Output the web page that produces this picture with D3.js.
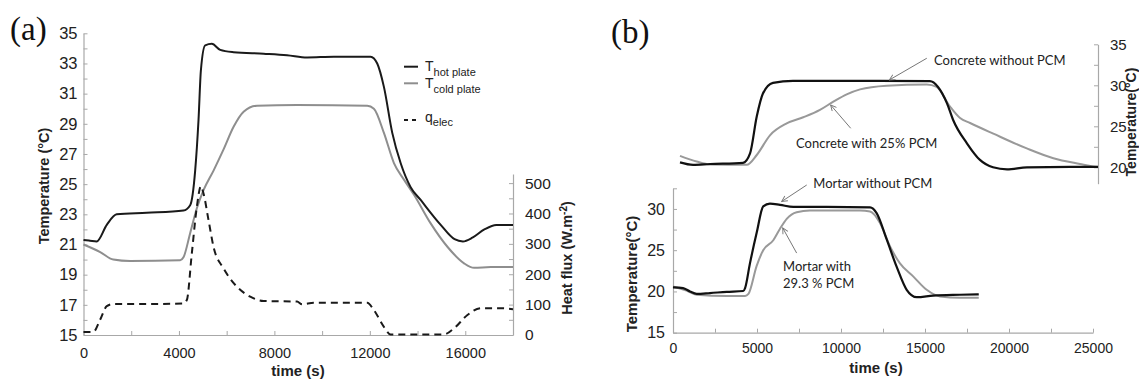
<!DOCTYPE html>
<html><head><meta charset="utf-8">
<script src="https://cdn.jsdelivr.net/npm/d3@7"></script>
<style>body{margin:0;background:#fff;} svg{display:block;}</style>
</head><body>
<svg id="chart" width="1139" height="380"></svg>
<script>
// ---------- Panel (a) data : [time (s), value] ----------
const hotPlate = [[0,21.3],[270,21.25],[550,21.2],[975,22.3],[1390,23.0],[2650,23.1],[4190,23.25],[4470,23.6],[4680,25.9],[4820,29.25],[4920,32.55],[5100,34.2],[5380,34.3],[5730,33.9],[6290,33.75],[7550,33.65],[8530,33.55],[9370,33.4],[10490,33.45],[12030,33.45],[12310,33.0],[12590,31.45],[12940,28.4],[13290,26.4],[13710,24.8],[14130,23.95],[14970,22.3],[15550,21.35],[15900,21.2],[16300,21.45],[16800,22.0],[17300,22.3],[18000,22.3]];
const coldPlate = [[0,21.0],[700,20.5],[1250,20.0],[1950,19.9],[4050,19.95],[4190,20.15],[4470,21.75],[4750,23.4],[5030,24.6],[5450,25.9],[5870,27.3],[6290,28.8],[6710,29.8],[7270,30.2],[8950,30.25],[11890,30.2],[12170,30.0],[12590,28.4],[13010,26.4],[13430,25.3],[13850,24.3],[14550,22.4],[15250,20.85],[15950,19.75],[16370,19.45],[17070,19.5],[18000,19.5]];
const heatFlux = [[0,10],[410,10],[690,49],[975,95],[1250,102],[2650,102],[4190,104],[4330,115],[4540,269],[4750,422],[4920,490],[5030,466],[5240,378],[5450,290],[5870,219],[6430,159],[6990,126],[7550,112],[8950,110],[9160,101],[9650,106],[11890,106],[12170,82],[12590,27],[12870,2],[15110,2],[15530,22],[16090,66],[16650,88],[17490,88],[18000,85]];
const timeTicksA = [0,2000,4000,6000,8000,10000,12000,14000,16000,18000];
const tempTicksA = d3.range(15, 36, 1);
const fluxTicksA = d3.range(0, 501, 50);

// ---------- Panel (b) data ----------
const concreteNoPCM = [[0,20.6],[780,20.3],[1800,20.4],[3770,20.55],[4190,21.7],[4590,26.2],[4960,29.0],[5560,30.3],[6760,30.55],[10770,30.55],[14950,30.5],[15430,29.8],[15970,27.8],[16330,25.8],[17170,22.9],[17940,20.9],[18720,20.0],[19560,19.75],[20750,20.0],[23330,20.05],[25000,20.05]];
const concretePCM = [[0,21.4],[1000,20.7],[1800,20.35],[3990,20.3],[4590,21.5],[5380,23.9],[6380,25.35],[7370,26.1],[8370,27.0],[9170,28.0],[9970,28.9],[10770,29.5],[12360,29.95],[14760,30.1],[15350,29.8],[16150,27.4],[16750,26.0],[17350,25.4],[18740,24.1],[20740,22.3],[22330,21.1],[23920,20.4],[24700,20.1],[25000,20.05]];
const mortarNoPCM = [[0,20.5],[600,20.4],[1010,20.0],[1410,19.7],[2200,19.8],[3200,19.95],[4180,20.05],[4290,20.4],[4580,23.4],[4980,27.1],[5370,30.3],[5770,30.65],[6370,30.5],[7160,30.25],[9150,30.25],[11730,30.2],[12120,29.5],[12720,26.3],[13310,23.0],[13910,20.2],[14510,19.3],[15490,19.5],[17080,19.6],[18200,19.65]];
const mortarPCM = [[0,20.6],[800,20.1],[1410,19.6],[3200,19.45],[4290,19.45],[4490,19.7],[4980,23.1],[5370,25.0],[5970,26.2],[6370,27.6],[6770,28.8],[7360,29.6],[8150,29.8],[11130,29.8],[11730,29.7],[12320,28.3],[12920,25.45],[13510,23.4],[14310,21.8],[15100,20.2],[15890,19.4],[17080,19.25],[18200,19.25]];
const timeTicksB = d3.range(0, 25001, 2500);
const tempTicksBBottom = [15,17.5,20,22.5,25,27.5,30,32.5];
const tempTicksBTop = [20,22.5,25,27.5,30,32.5,35];

const svg = d3.select("#chart");
const NUM = "'Liberation Sans', Arial, sans-serif";
const AXC = "#a8a8a8", TXC = "#222";

function styleAxis(g, fs) {
  g.select(".domain").attr("stroke", AXC).attr("stroke-width", 1.2);
  g.selectAll(".tick line").attr("stroke", AXC).attr("stroke-width", 1);
  g.selectAll(".tick text").attr("font-family", NUM).attr("font-size", fs).attr("fill", TXC);
}
function rotText(x, y, txt, fs) {
  return svg.append("text").attr("transform", `translate(${x},${y}) rotate(-90)`)
    .attr("text-anchor", "middle").attr("dy", "0.35em")
    .attr("font-family", NUM).attr("font-weight", "bold").attr("font-size", fs).attr("fill", TXC).text(txt);
}

// ================= Panel (a) =================
const xA = d3.scaleLinear().domain([0, 18000]).range([83.5, 513]);
const yA = d3.scaleLinear().domain([15, 35]).range([335, 33.3]);
const yQ = d3.scaleLinear().domain([0, 530]).range([335, 174]);

svg.append("g").attr("transform", "translate(0,335)")
  .call(d3.axisBottom(xA).tickValues(timeTicksA).tickSize(-4).tickSizeOuter(0).tickPadding(13)
    .tickFormat(d => d % 4000 === 0 ? d : ""))
  .call(g => styleAxis(g, 14.5));
svg.append("g").attr("transform", "translate(83.5,0)")
  .call(d3.axisLeft(yA).tickValues(tempTicksA).tickSize(-4).tickSizeOuter(0).tickPadding(6)
    .tickFormat(d => d % 2 === 1 ? d : ""))
  .call(g => styleAxis(g, 16.5));
svg.append("g").attr("transform", "translate(513,0)")
  .call(d3.axisRight(yQ).tickValues(fluxTicksA).tickSize(-4).tickSizeOuter(0).tickPadding(12)
    .tickFormat(d => d % 100 === 0 ? d : ""))
  .call(g => styleAxis(g, 15.5));

const lineA = d3.line().x(d => xA(d[0])).y(d => yA(d[1])).curve(d3.curveMonotoneX);
const lineQ = d3.line().x(d => xA(d[0])).y(d => yQ(d[1])).curve(d3.curveMonotoneX);
svg.append("path").datum(coldPlate).attr("d", lineA).attr("fill", "none").attr("stroke", "#8e8e8e").attr("stroke-width", 2);
svg.append("path").datum(hotPlate).attr("d", lineA).attr("fill", "none").attr("stroke", "#1a1a1a").attr("stroke-width", 2);
svg.append("path").datum(heatFlux).attr("d", lineQ).attr("fill", "none").attr("stroke", "#1a1a1a").attr("stroke-width", 2).attr("stroke-dasharray", "7,5");

// legend
const leg = svg.append("g").attr("font-family", NUM).attr("fill", TXC);
leg.append("line").attr("x1", 404).attr("x2", 418).attr("y1", 66.7).attr("y2", 66.7).attr("stroke", "#1a1a1a").attr("stroke-width", 2);
leg.append("line").attr("x1", 404).attr("x2", 418).attr("y1", 83.3).attr("y2", 83.3).attr("stroke", "#8e8e8e").attr("stroke-width", 2);
leg.append("line").attr("x1", 404).attr("x2", 418).attr("y1", 120).attr("y2", 120).attr("stroke", "#1a1a1a").attr("stroke-width", 2).attr("stroke-dasharray", "4,4");
const l1 = leg.append("text").attr("x", 425).attr("y", 71).attr("font-size", 14);
l1.append("tspan").text("T"); l1.append("tspan").attr("dy", 4.5).attr("font-size", 11).text("hot plate");
const l2 = leg.append("text").attr("x", 425).attr("y", 88).attr("font-size", 14);
l2.append("tspan").text("T"); l2.append("tspan").attr("dy", 4.5).attr("font-size", 11).text("cold plate");
const l3 = leg.append("text").attr("x", 425).attr("y", 122).attr("font-size", 14);
l3.append("tspan").text("q"); l3.append("tspan").attr("dy", 4).attr("font-size", 11).text("elec");

// titles
svg.append("text").attr("x", 10).attr("y", 40).attr("font-family", "'Liberation Serif','Times New Roman',serif").attr("font-size", 33).attr("fill", "#111").text("(a)");
rotText(44, 186, "Temperature (°C)", 14.5);
const hf = svg.append("text").attr("transform", "translate(567,258) rotate(-90)").attr("text-anchor", "middle").attr("dy", "0.35em")
  .attr("font-family", NUM).attr("font-weight", "bold").attr("font-size", 14.5).attr("fill", TXC);
hf.append("tspan").text("Heat flux (W.m");
hf.append("tspan").attr("dy", -5).attr("font-size", 10).text("-2");
hf.append("tspan").attr("dy", 5).text(")");
svg.append("text").attr("x", 298).attr("y", 376).attr("text-anchor", "middle").attr("font-family", NUM).attr("font-weight", "bold").attr("font-size", 15).attr("fill", TXC).text("time (s)");

// ================= Panel (b) =================
svg.append("text").attr("x", 611).attr("y", 43).attr("font-family", "'Liberation Serif','Times New Roman',serif").attr("font-size", 33).attr("fill", "#111").text("(b)");

// top chart (concrete)
const xBT = d3.scaleLinear().domain([0, 25000]).range([680, 1098]);
const yBT = d3.scaleLinear().domain([18, 35]).range([183.7, 44.3]);
svg.append("g").attr("transform", "translate(1098,0)")
  .call(d3.axisRight(yBT).tickValues(tempTicksBTop).tickSize(-4).tickSizeOuter(0).tickPadding(12)
    .tickFormat(d => d % 5 === 0 ? d : ""))
  .call(g => styleAxis(g, 15));
const lineBT = d3.line().x(d => xBT(d[0])).y(d => yBT(d[1])).curve(d3.curveMonotoneX);
svg.append("path").datum(concretePCM).attr("d", lineBT).attr("fill", "none").attr("stroke", "#999").attr("stroke-width", 2);
svg.append("path").datum(concreteNoPCM).attr("d", lineBT).attr("fill", "none").attr("stroke", "#111").attr("stroke-width", 2.2);
svg.append("text").attr("transform", "translate(1135.5,122) rotate(-90)").attr("text-anchor", "middle")
  .attr("font-family", NUM).attr("font-weight", "bold").attr("font-size", 14).attr("fill", TXC).text("Temperature(°C)");

// bottom chart (mortar)
const xBB = d3.scaleLinear().domain([0, 25000]).range([673, 1093]);
const yBB = d3.scaleLinear().domain([15, 32.5]).range([332.7, 188.3]);
svg.append("g").attr("transform", "translate(0,332.7)")
  .call(d3.axisBottom(xBB).tickValues(timeTicksB).tickSize(-4).tickSizeOuter(0).tickPadding(10)
    .tickFormat(d => d % 5000 === 0 ? d : ""))
  .call(g => styleAxis(g, 14));
svg.append("g").attr("transform", "translate(673,0)")
  .call(d3.axisLeft(yBB).tickValues(tempTicksBBottom).tickSize(-4).tickSizeOuter(0).tickPadding(8)
    .tickFormat(d => d % 5 === 0 ? d : ""))
  .call(g => styleAxis(g, 16));
const lineBB = d3.line().x(d => xBB(d[0])).y(d => yBB(d[1])).curve(d3.curveMonotoneX);
svg.append("path").datum(mortarPCM).attr("d", lineBB).attr("fill", "none").attr("stroke", "#999").attr("stroke-width", 2);
svg.append("path").datum(mortarNoPCM).attr("d", lineBB).attr("fill", "none").attr("stroke", "#111").attr("stroke-width", 2.2);
rotText(632, 274, "Temperature(°C)", 15);
svg.append("text").attr("x", 876).attr("y", 373).attr("text-anchor", "middle").attr("font-family", NUM).attr("font-weight", "bold").attr("font-size", 15).attr("fill", TXC).text("time (s)");

// annotations
const defs = svg.append("defs");
defs.append("marker").attr("id", "ah").attr("viewBox", "0 0 10 10").attr("refX", 9).attr("refY", 5)
  .attr("markerWidth", 7).attr("markerHeight", 7).attr("orient", "auto")
  .append("path").attr("d", "M1,1 L9,5 L1,9").attr("fill", "none").attr("stroke", "#777").attr("stroke-width", 1.3);
const ANN = "Lato, 'Open Sans', sans-serif";
function note(x, y, txt) {
  svg.append("text").attr("x", x).attr("y", y).attr("dy", "0.35em").attr("font-family", ANN).attr("font-size", 13).attr("fill", "#222").text(txt);
}
function arrow(x1, y1, x2, y2) {
  svg.append("line").attr("x1", x1).attr("y1", y1).attr("x2", x2).attr("y2", y2)
    .attr("stroke", "#777").attr("stroke-width", 1).attr("marker-end", "url(#ah)");
}
note(xBT(15190), yBT(33.0), "Concrete without  PCM");
arrow(xBT(14760), yBT(33.3), xBT(12520), yBT(30.65));
note(xBT(6940), yBT(22.93), "Concrete with 25% PCM");
arrow(xBT(10210), yBT(24.76), xBT(9010), yBT(27.6));
note(xBB(8350), yBB(33.07), "Mortar without  PCM");
arrow(xBB(7960), yBB(32.9), xBB(6470), yBB(30.9));
note(xBB(6550), yBB(23.0), "Mortar with");
note(xBB(6550), yBB(21.0), "29.3 % PCM");
arrow(xBB(7360), yBB(24.65), xBB(6530), yBB(27.7));
</script>
</body></html>
